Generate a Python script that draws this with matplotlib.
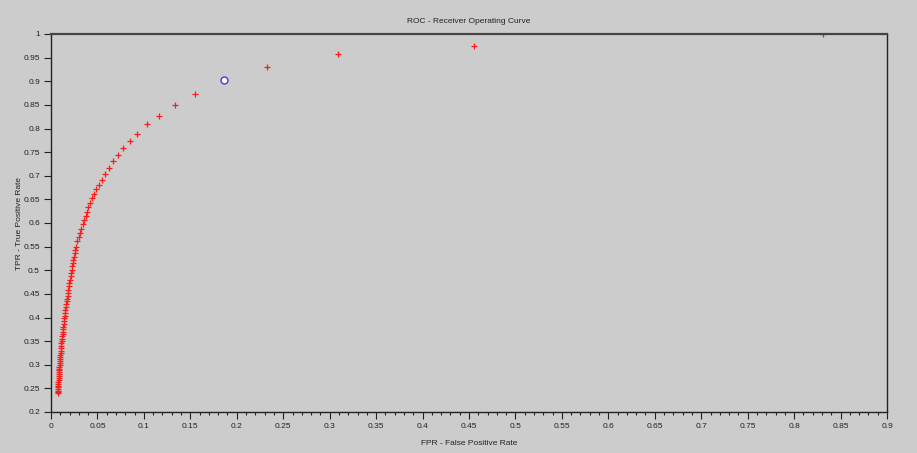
import matplotlib
matplotlib.use("Agg")
import matplotlib.pyplot as plt
from matplotlib.ticker import MultipleLocator, FuncFormatter

# ROC points (FPR, TPR)
fpr = [0.8316, 0.4558, 0.3093, 0.2326, 0.1555, 0.1333, 0.1167, 0.1035, 0.0930,
       0.0851, 0.0779, 0.0719, 0.0665, 0.0622, 0.0585, 0.0550, 0.0517, 0.0488,
       0.0460, 0.0442, 0.0420, 0.0402, 0.0385, 0.0374, 0.0356, 0.0342, 0.0327,
       0.0313, 0.0299, 0.0284, 0.0269,
       0.0263, 0.0256, 0.0249, 0.0242, 0.0236, 0.0229, 0.0223, 0.0217, 0.0211,
       0.0205, 0.0199, 0.0194, 0.0188, 0.0183, 0.0178, 0.0173, 0.0169, 0.0165,
       0.0160, 0.0156, 0.0152, 0.0148, 0.0144, 0.0140, 0.0136, 0.0133, 0.0130,
       0.0127, 0.0124, 0.0121, 0.0118, 0.0116, 0.0113, 0.0111, 0.0108, 0.0106,
       0.0104, 0.0101, 0.0099, 0.0098, 0.0096, 0.0094, 0.0093, 0.0091, 0.0090,
       0.0088, 0.0087, 0.0085, 0.0084, 0.0082, 0.0081, 0.0080, 0.0078, 0.0077,
       0.0076, 0.0075, 0.0074, 0.0073, 0.0072]
tpr = [1.0000, 0.9746, 0.9570, 0.9295, 0.8730, 0.8504, 0.8271, 0.8089, 0.7890,
       0.7742, 0.7581, 0.7446, 0.7306, 0.7170, 0.7031, 0.6910, 0.6804, 0.6720,
       0.6614, 0.6523, 0.6417, 0.6332, 0.6239, 0.6155, 0.6063, 0.5979, 0.5879,
       0.5795, 0.5697, 0.5613, 0.5498,
       0.543, 0.536, 0.529, 0.522, 0.515, 0.508, 0.501, 0.494, 0.487,
       0.480, 0.473, 0.466, 0.459, 0.452, 0.446, 0.440, 0.434, 0.428,
       0.422, 0.416, 0.410, 0.404, 0.398, 0.392, 0.386, 0.380, 0.375,
       0.370, 0.365, 0.360, 0.355, 0.350, 0.345, 0.340, 0.335, 0.330,
       0.325, 0.320, 0.316, 0.312, 0.308, 0.304, 0.300, 0.296, 0.292,
       0.288, 0.284, 0.280, 0.276, 0.272, 0.268, 0.264, 0.260, 0.256,
       0.252, 0.248, 0.245, 0.242, 0.240]

# highlighted operating point
best_fpr = [0.1861]
best_tpr = [0.9033]

title = "ROC - Receiver Operating Curve"
xlabel = "FPR - False Positive Rate"
ylabel = "TPR - True Positive Rate"

plt.rcParams['font.family'] = ['Liberation Sans', 'DejaVu Sans']

bg = '#cccccc'
fig = plt.figure(figsize=(9.17, 4.53), dpi=100, facecolor=bg)
ax = fig.add_axes([51/917, 1-412/453, (887-51)/917, (412-34)/453])
ax.set_facecolor(bg)

ax.plot(fpr, tpr, linestyle='none', marker='+', color='#ff1a1a',
        markersize=5, markeredgewidth=0.9)
ax.plot(best_fpr, best_tpr, linestyle='none', marker='o', markersize=5,
        markerfacecolor='white', markeredgecolor='#3a3aff', markeredgewidth=1.0)

ax.set_xlim(0, 0.9)
ax.set_ylim(0.2, 1.0)
ax.xaxis.set_major_locator(MultipleLocator(0.05))
ax.xaxis.set_minor_locator(MultipleLocator(0.01))
ax.yaxis.set_major_locator(MultipleLocator(0.05))
fmt = FuncFormatter(lambda v, p: f"{v:.2f}".rstrip('0').rstrip('.'))
ax.xaxis.set_major_formatter(fmt)
ax.yaxis.set_major_formatter(fmt)

ax.tick_params(axis='both', which='major', labelsize=6, length=5, width=0.8,
               color='#222222', labelcolor='#222222', pad=3)
ax.tick_params(axis='x', which='minor', length=2.5, width=0.8, color='#222222')

for s in ['left', 'bottom', 'right']:
    ax.spines[s].set_color('#222222')
    ax.spines[s].set_linewidth(1.0)
ax.spines['top'].set_color('#444444')
ax.spines['top'].set_linewidth(1.6)

ax.set_title(title, fontsize=6, color='#222222', pad=8)
ax.set_xlabel(xlabel, fontsize=6, color='#222222', labelpad=7)
ax.set_ylabel(ylabel, fontsize=6, color='#222222', labelpad=0)

fig.savefig('out.png', dpi=100, facecolor=bg)
